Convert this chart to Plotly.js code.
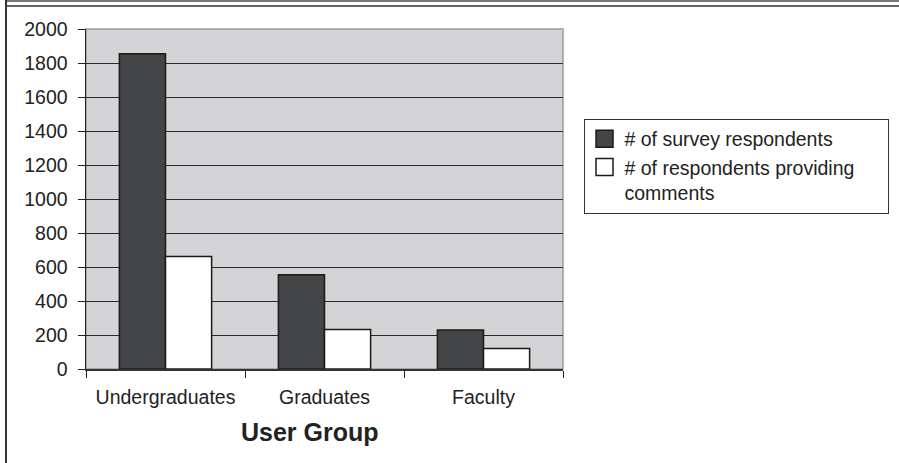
<!DOCTYPE html>
<html>
<head>
<meta charset="utf-8">
<script src="https://cdn.plot.ly/plotly-3.0.1.min.js"></script>
<style>
  html, body { margin: 0; padding: 0; background: #fff; }
  #wrap { position: relative; width: 899px; height: 463px; overflow: hidden; }
  #chart { position: absolute; left: 0; top: 0; width: 899px; height: 463px; }
  .frame { position: absolute; pointer-events: none; }
</style>
</head>
<body>
<div id="wrap">
  <div id="chart"></div>
  <div class="frame" style="left:5px;top:0;width:894px;height:1.5px;background:#777;"></div>
  <div class="frame" style="left:5px;top:5px;width:894px;height:2px;background:#666;"></div>
  <div class="frame" style="left:5px;top:0;width:1.5px;height:463px;background:#333;"></div>
</div>
<script>
const categories = ["Undergraduates", "Graduates", "Faculty"];
const seriesNames = ["# of survey respondents", "# of respondents providing<br>comments"];
const surveyRespondents = [1855, 555, 230];
const commentRespondents = [662, 233, 120];
const yTickValues = [0, 200, 400, 600, 800, 1000, 1200, 1400, 1600, 1800, 2000];
const xAxisTitle = "User Group";

const FONT = "Liberation Sans, Arial, sans-serif";

const traces = [
  {
    type: "bar",
    name: seriesNames[0],
    x: categories,
    y: surveyRespondents,
    marker: { color: "#444547", line: { color: "#1a1a1a", width: 1.5 } },
    hoverinfo: "skip"
  },
  {
    type: "bar",
    name: seriesNames[1],
    x: categories,
    y: commentRespondents,
    marker: { color: "#ffffff", line: { color: "#1a1a1a", width: 1.5 } },
    hoverinfo: "skip"
  }
];

const layout = {
  width: 899,
  height: 463,
  margin: { l: 86, r: 335.5, t: 28.7, b: 94.3, pad: 0 },
  paper_bgcolor: "#ffffff",
  plot_bgcolor: "#d4d4d6",
  barmode: "group",
  bargap: 0.42,
  bargroupgap: 0,
  font: { family: FONT, size: 19.5, color: "#222" },
  showlegend: true,
  legend: {
    x: 1.043, y: 0.7365, xanchor: "left", yanchor: "top",
    xref: "paper", yref: "paper",
    bgcolor: "#ffffff",
    bordercolor: "#333",
    borderwidth: 1,
    valign: "top",
    font: { family: FONT, size: 19.5, color: "#222" },
    tracegroupgap: 0,
    itemclick: false
  },
  xaxis: {
    type: "category",
    range: [-0.5, 2.5],
    tickson: "boundaries",
    ticks: "outside",
    ticklen: 7,
    tickwidth: 1,
    tickcolor: "#222",
    showline: true,
    linecolor: "#333",
    linewidth: 2,
    showgrid: false,
    zeroline: false,
    ticklabelstandoff: 10,
    tickfont: { family: FONT, size: 19.5, color: "#222" },
    fixedrange: true
  },
  yaxis: {
    range: [0, 2000],
    tickvals: yTickValues,
    ticktext: yTickValues.map(String),
    ticks: "outside",
    ticklen: 7,
    tickwidth: 1,
    tickcolor: "#222",
    showline: true,
    linecolor: "#222",
    linewidth: 1.5,
    showgrid: true,
    gridcolor: "#2a2a2a",
    gridwidth: 1,
    zeroline: false,
    ticklabelstandoff: 6,
    tickfont: { family: FONT, size: 19.5, color: "#222" },
    fixedrange: true
  },
  shapes: [
    {
      type: "rect", xref: "paper", yref: "paper",
      x0: 0, x1: 1, y0: 0, y1: 1,
      line: { color: "#9a9a9a", width: 1.5 },
      layer: "below"
    }
  ],
  annotations: [
    {
      text: "<b>" + xAxisTitle + "</b>",
      xref: "paper", yref: "paper",
      x: 0.469, y: -0.186,
      xanchor: "center", yanchor: "middle",
      showarrow: false,
      font: { family: FONT, size: 25, color: "#222" }
    }
  ]
};

Plotly.newPlot("chart", traces, layout, { displayModeBar: false, staticPlot: true }).then(function () {
  document.querySelectorAll(".legend .legendpoints path").forEach(function (p) {
    p.setAttribute("d", "M8.5,8.5H-8.5V-8.5H8.5Z");
  });
  document.querySelectorAll(".legend rect.bg").forEach(function (r) {
    r.setAttribute("width", "304");
  });
});
</script>
</body>
</html>
